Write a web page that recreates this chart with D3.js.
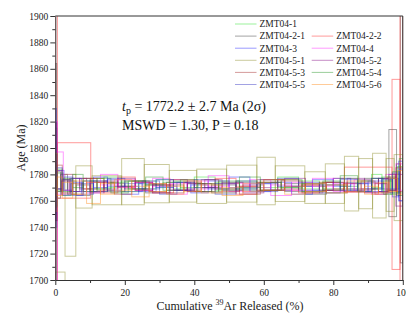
<!DOCTYPE html>
<html>
<head>
<meta charset="utf-8">
<script src="https://cdn.jsdelivr.net/npm/d3@7"></script>
<style>
  html, body { margin: 0; padding: 0; background: #fff; }
  svg { display: block; font-family: "Liberation Serif", "Times New Roman", serif; }
</style>
</head>
<body>
<div id="chart"></div>
<script>
// sample names, legend order
const samples = ["ZMT04-1", "ZMT04-2-1", "ZMT04-2-2", "ZMT04-3", "ZMT04-4", "ZMT04-5-1",
                 "ZMT04-5-2", "ZMT04-5-3", "ZMT04-5-4", "ZMT04-5-5", "ZMT04-5-6"];

// cumulative 39Ar released (%) step boundaries, apparent ages (Ma), 2s errors
const zmt04_1_bounds = [0,0.5,2,5,9,14,19,24,29,34,40,46,52,58,64,70,76,82,87,91,94,96.5,98.5,100];
const zmt04_1_ages   = [1785,1776,1770,1772,1773,1774,1771,1772,1773,1772,1774,1771,1772,1773,1774,1772,1771,1773,1772,1775,1773,1771,1776];
const zmt04_1_errs   = [30,8,6,5,4,4,4,3,3,3,4,3,3,3,4,3,3,4,4,5,5,6,10];

const zmt04_2_1_bounds = [0,0.4,1.5,3.5,6,10,15,20,26,32,38,45,52,59,66,72,78,84,89,93,96,98.2,99.3,100];
const zmt04_2_1_ages   = [1780,1772,1774,1770,1768,1771,1770,1772,1769,1771,1770,1769,1771,1772,1770,1768,1769,1771,1773,1772,1781,1776,1810];
const zmt04_2_1_errs   = [84,10,6,5,4,4,3,3,3,3,3,3,3,4,3,3,3,3,4,5,33,12,97];

const zmt04_2_2_bounds = [0,0.6,10.2,14,18,23,28,34,40,46,52,58,64,70,76,80,83.2,96.9,99.2,100];
const zmt04_2_2_ages   = [1800,1783,1772,1770,1774,1771,1769,1772,1770,1773,1768,1771,1772,1769,1771,1773,1776,1780,1800];
const zmt04_2_2_errs   = [300,21,5,4,4,3,3,4,3,4,3,3,4,3,3,4,9.5,72,300];

const zmt04_3_bounds = [0,0.3,2.5,5,8,11,15,19,24,29,34,39,44,50,56,62,68,74,80,85,90,94,97,98.8,100];
const zmt04_3_ages   = [1790,1776,1773,1769,1771,1774,1772,1768,1770,1773,1771,1769,1772,1774,1770,1771,1768,1772,1774,1770,1771,1773,1770,1775];
const zmt04_3_errs   = [40,7,5,5,4,4,4,3,3,3,3,3,3,4,3,3,3,4,3,3,4,4,7,15];

const zmt04_4_bounds = [0,0.6,2.3,5,9,13,18,23,28,33,38,44,50,56,62,68,74,80,86,91,95,98,100];
const zmt04_4_ages   = [1760,1781,1774,1772,1770,1776,1773,1771,1774,1769,1772,1775,1770,1773,1768,1771,1774,1770,1772,1769,1774,1778];
const zmt04_4_errs   = [60,16,6,5,4,4,3,3,3,4,3,4,3,3,4,3,3,3,4,4,6,10];

const zmt04_5_1_bounds = [0,2.8,5.9,10.6,19.1,25.6,32.8,40.7,49.3,58.0,63.3,71.8,77.7,83.2,87.3,91.3,95.2,97.5,100];
const zmt04_5_1_ages   = [1690,1749,1770.5,1768,1774.5,1773,1771,1771,1773,1775,1773,1770,1773,1773,1773,1771.5,1772,1770];
const zmt04_5_1_errs   = [16,31,16,11,17.5,14.5,12,13,14,18,13.5,12,15,20.7,19,24.5,20,25];

const zmt04_5_2_bounds = [0,0.4,1.8,4,7,10,14,18,23,28,33,38,43,48,54,60,66,72,78,84,89,93,96,98,100];
const zmt04_5_2_ages   = [1782,1775,1770,1772,1773,1770,1772,1774,1771,1769,1772,1770,1773,1771,1769,1772,1774,1770,1771,1773,1770,1772,1774,1768];
const zmt04_5_2_errs   = [37,8,5,5,4,4,3,3,3,3,4,3,3,3,3,4,3,3,3,4,4,5,6,12];

const zmt04_5_3_bounds = [0,0.5,2,4.5,8,12,17,22,27,32,37,42,47,53,59,65,71,77,83,88,92,95.5,98,100];
const zmt04_5_3_ages   = [1770,1778,1771,1769,1773,1771,1768,1772,1770,1769,1771,1773,1770,1768,1771,1772,1769,1771,1770,1772,1769,1773,1776];
const zmt04_5_3_errs   = [25,9,5,4,4,3,3,3,3,3,3,3,3,3,3,3,3,3,3,3,4,5,9];

const zmt04_5_4_bounds = [0,0.5,2.2,5,8,12,16,21,26,31,36,41,47,53,59,65,71,77,82,87,91,94.5,97,99,100];
const zmt04_5_4_ages   = [1776,1774,1772,1775,1771,1773,1770,1772,1775,1771,1773,1770,1772,1774,1771,1773,1770,1772,1775,1771,1773,1770,1774,1778];
const zmt04_5_4_errs   = [20,7,5,5,4,4,4,3,3,3,3,3,3,4,3,3,3,3,4,4,4,5,8,14];

const zmt04_5_5_bounds = [0,0.4,2,4.5,7.5,11,15,20,25,30,35,40,46,52,58,64,70,76,82,87,91,94,97,99,100];
const zmt04_5_5_ages   = [1768,1777,1770,1772,1769,1771,1774,1770,1772,1768,1771,1773,1769,1772,1770,1774,1771,1769,1772,1770,1773,1771,1775,1772];
const zmt04_5_5_errs   = [28,8,6,5,4,4,3,3,3,3,3,3,4,3,3,3,3,3,4,3,4,5,6,12];

const zmt04_5_6_bounds = [0,0.5,2,5,9,13,17,22,27,32,37,42,48,54,60,66,72,78,84,89,93,96,98.5,100];
const zmt04_5_6_ages   = [1774,1771,1768,1770,1766,1769,1772,1767,1770,1768,1771,1769,1767,1770,1772,1768,1770,1769,1771,1768,1770,1772,1774];
const zmt04_5_6_errs   = [22,7,6,5,8,4,4,4,3,3,4,3,3,3,4,3,3,3,4,3,4,5,9];

const yTicks = [1700,1720,1740,1760,1780,1800,1820,1840,1860,1880,1900];
const xTicks = [0,20,40,60,80,100];

const spectra = [
  [zmt04_1_bounds, zmt04_1_ages, zmt04_1_errs],
  [zmt04_2_1_bounds, zmt04_2_1_ages, zmt04_2_1_errs],
  [zmt04_2_2_bounds, zmt04_2_2_ages, zmt04_2_2_errs],
  [zmt04_3_bounds, zmt04_3_ages, zmt04_3_errs],
  [zmt04_4_bounds, zmt04_4_ages, zmt04_4_errs],
  [zmt04_5_1_bounds, zmt04_5_1_ages, zmt04_5_1_errs],
  [zmt04_5_2_bounds, zmt04_5_2_ages, zmt04_5_2_errs],
  [zmt04_5_3_bounds, zmt04_5_3_ages, zmt04_5_3_errs],
  [zmt04_5_4_bounds, zmt04_5_4_ages, zmt04_5_4_errs],
  [zmt04_5_5_bounds, zmt04_5_5_ages, zmt04_5_5_errs],
  [zmt04_5_6_bounds, zmt04_5_6_ages, zmt04_5_6_errs]
];

const colors = ["#22dd22", "#333333", "#ff2020", "#2020ff", "#ff20ff", "#8c8c28",
                "#800080", "#a02020", "#209020", "#3030c0", "#ff8c1a"];

// SVG config
const margin = { top: 16, right: 3.2, bottom: 37, left: 55.3 };
const fullW = 406, fullH = 317;
const width = fullW - margin.left - margin.right;
const height = fullH - margin.top - margin.bottom;

const svg = d3.select("#chart").append("svg")
  .attr("width", fullW)
  .attr("height", fullH);

const g = svg.append("g")
  .attr("transform", "translate(" + margin.left + "," + margin.top + ")");

const x = d3.scaleLinear().domain([0, 100]).range([0, width]);
const y = d3.scaleLinear().domain([1700, 1900]).range([height, 0]);

g.append("clipPath").attr("id", "plotclip")
  .append("rect").attr("x", 0).attr("y", 0).attr("width", width).attr("height", height);

// step boxes
const plot = g.append("g").attr("clip-path", "url(#plotclip)");
spectra.forEach((s, k) => {
  const bounds = s[0], ages = s[1], errs = s[2];
  const steps = ages.map((a, i) => ({ x0: bounds[i], x1: bounds[i + 1], age: a, err: errs[i] }));
  plot.append("g")
    .selectAll("rect")
    .data(steps)
    .enter()
    .append("rect")
    .attr("x", d => x(d.x0))
    .attr("width", d => x(d.x1) - x(d.x0))
    .attr("y", d => y(d.age + d.err))
    .attr("height", d => y(d.age - d.err) - y(d.age + d.err))
    .attr("fill", "none")
    .attr("stroke", colors[k])
    .attr("stroke-opacity", 0.45)
    .attr("stroke-width", 1);
});

// axes
const axisColor = "#333";
function styleAxis(sel, fontSize) {
  sel.attr("font-family", null).attr("font-size", null);
  sel.selectAll("path,line").attr("stroke", axisColor);
  sel.selectAll("text")
    .attr("fill", "#222")
    .style("font-family", "'Liberation Serif', serif")
    .style("font-size", fontSize);
}

g.append("g")
  .call(d3.axisLeft(y).tickValues(d3.range(1710, 1900, 20)).tickSize(3).tickFormat(""))
  .call(a => a.select(".domain").remove())
  .call(a => styleAxis(a, "9.5px"));

g.append("g")
  .call(d3.axisLeft(y).tickValues(yTicks).tickSize(5).tickPadding(2).tickSizeOuter(0).tickFormat(d3.format("d")))
  .call(a => styleAxis(a, "9.5px"));

g.append("g")
  .attr("transform", "translate(0," + height + ")")
  .call(d3.axisBottom(x).tickValues(d3.range(10, 100, 20)).tickSize(3).tickFormat(""))
  .call(a => a.select(".domain").remove())
  .call(a => styleAxis(a, "9.5px"));

g.append("g")
  .attr("transform", "translate(0," + height + ")")
  .call(d3.axisBottom(x).tickValues(xTicks).tickSize(5).tickPadding(4).tickSizeOuter(0).tickFormat(d3.format("d")))
  .call(a => styleAxis(a, "9.5px"));

// top and right frame
g.append("line").attr("x1", 0).attr("x2", width).attr("y1", 0).attr("y2", 0)
  .attr("stroke", axisColor).attr("stroke-width", 1);
g.append("line").attr("x1", width).attr("x2", width).attr("y1", 0).attr("y2", height)
  .attr("stroke", axisColor).attr("stroke-width", 1);

// axis titles
svg.append("text")
  .attr("transform", "translate(21," + (margin.top + height / 2) + ")rotate(-90)")
  .attr("text-anchor", "middle")
  .attr("dy", "0.35em")
  .style("font-size", "12px")
  .attr("fill", "#222")
  .text("Age (Ma)");

const xt = svg.append("text")
  .attr("x", 230)
  .attr("y", 310)
  .attr("text-anchor", "middle")
  .style("font-size", "12px")
  .attr("fill", "#222");
xt.append("tspan").text("Cumulative ");
xt.append("tspan").attr("dy", -5).style("font-size", "8px").text("39");
xt.append("tspan").attr("dy", 5).text("Ar Released (%)");

// plateau annotation
const t1 = svg.append("text")
  .attr("x", 122)
  .attr("y", 111)
  .style("font-size", "14px")
  .attr("fill", "#111");
t1.append("tspan").style("font-style", "italic").text("t");
t1.append("tspan").attr("dy", 3).style("font-size", "10px").text("p");
t1.append("tspan").attr("dy", -3).text(" = 1772.2 \u00b1 2.7 Ma (2\u03c3)");

svg.append("text")
  .attr("x", 122)
  .attr("y", 130)
  .style("font-size", "14px")
  .attr("fill", "#111")
  .text("MSWD = 1.30, P = 0.18");

// legend: first row holds one entry, then two columns
const legendSlots = samples.map((name, i) => {
  if (i === 0) return { col: 0, row: 0 };
  return { col: (i - 1) % 2, row: 1 + Math.floor((i - 1) / 2) };
});
const legendX = [235, 311.7];
const legend = svg.append("g");
samples.forEach((name, i) => {
  const slot = legendSlots[i];
  const lx = legendX[slot.col];
  const ly = 24 + slot.row * 12.1;
  legend.append("line")
    .attr("x1", lx).attr("x2", lx + 21.5)
    .attr("y1", ly).attr("y2", ly)
    .attr("stroke", colors[i])
    .attr("stroke-opacity", 0.45)
    .attr("stroke-width", 1);
  legend.append("text")
    .attr("x", lx + 24.5)
    .attr("y", ly)
    .attr("dy", "0.35em")
    .style("font-size", "9.5px")
    .attr("fill", "#222")
    .text(name);
});
</script>
</body>
</html>
